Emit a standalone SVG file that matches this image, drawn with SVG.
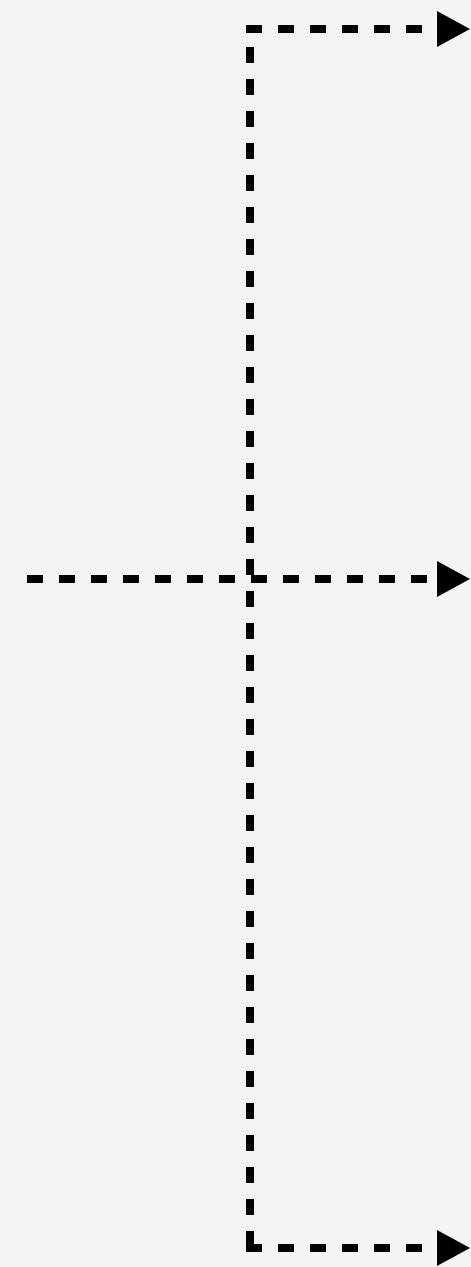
<svg xmlns="http://www.w3.org/2000/svg" width="471" height="1267" viewBox="0 0 471 1267">
  <style>
    .bg { fill: #f4f4f4; }
    .conn { fill: none; stroke: #000; stroke-width: 8; stroke-dasharray: 16 16; stroke-linecap: butt; }
  </style>
  <defs>
    <marker id="arrow" markerUnits="userSpaceOnUse" viewBox="0 0 34 36" markerWidth="34" markerHeight="36" refX="1" refY="18" orient="auto">
      <path d="M0,0 L33,18 L0,36 Z" fill="#000"/>
    </marker>
  </defs>
  <rect class="bg" x="0" y="0" width="471" height="1267"/>
  <g id="connectors">
    <path class="conn" d="M250,47 V1248"/>
    <path class="conn" d="M246,29 H438" marker-end="url(#arrow)"/>
    <path class="conn" d="M27,579 H438" marker-end="url(#arrow)"/>
    <path class="conn" d="M246,1248 H438" marker-end="url(#arrow)"/>
  </g>
</svg>
